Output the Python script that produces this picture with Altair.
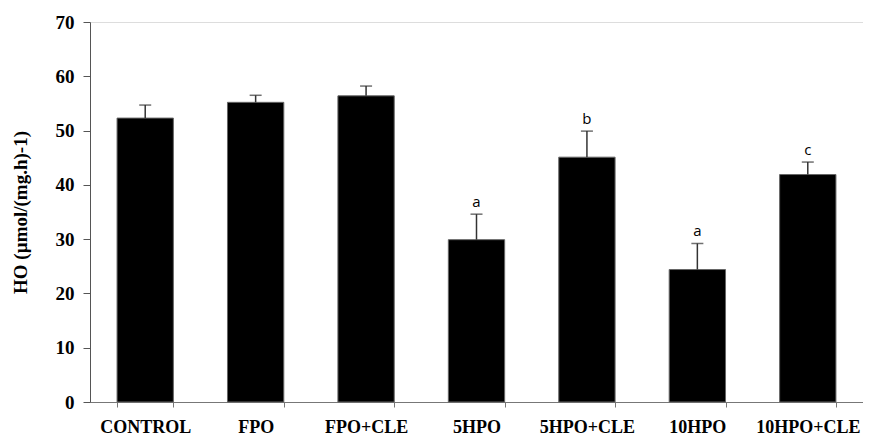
import altair as alt
import pandas as pd

groups = ["CONTROL", "FPO", "FPO+CLE", "5HPO", "5HPO+CLE", "10HPO", "10HPO+CLE"]
means = [52.3, 55.2, 56.4, 29.9, 45.1, 24.4, 41.9]
errors = [2.4, 1.3, 1.8, 4.7, 4.8, 4.8, 2.3]
letters = ["", "", "", "a", "b", "a", "c"]

df = pd.DataFrame({"group": groups, "mean": means, "err": errors, "letter": letters})
df["upper"] = df["mean"] + df["err"]

serif = "Times New Roman, Liberation Serif, serif"

x = alt.X("group:N", sort=groups, title=None,
          scale=alt.Scale(paddingInner=0.49, paddingOuter=0.245),
          axis=alt.Axis(labelAngle=0, labelFont=serif, labelFontSize=18, labelFontWeight="bold",
                        labelColor="black", tickBand="extent", tickSize=5, tickColor="#777",
                        domainColor="#777", labelPadding=11, labelOverlap=False))
y = alt.Y("mean:Q", title="HO (µmol/(mg.h)-1)",
          scale=alt.Scale(domain=[0, 70], nice=False),
          axis=alt.Axis(values=[0, 10, 20, 30, 40, 50, 60, 70], grid=False,
                        labelFont=serif, labelFontSize=19, labelFontWeight="bold", labelColor="black",
                        tickSize=7, tickColor="#555", domainColor="#555", labelPadding=9,
                        titleFont=serif, titleFontSize=19, titleFontWeight="bold", titleColor="black",
                        titlePadding=25))

base = alt.Chart(df)
bars = base.mark_bar(color="black", stroke="#666", strokeWidth=1).encode(x=x, y=y)
rules = base.mark_rule(color="#333", strokeWidth=1.5).encode(
    x=alt.X("group:N", sort=groups), y="mean:Q", y2="upper:Q")
caps = base.mark_tick(color="#333", thickness=1.5, size=12, orient="horizontal").encode(
    x=alt.X("group:N", sort=groups), y="upper:Q")
labels = base.mark_text(font="Open Sans, Liberation Sans, sans-serif", fontSize=15,
                        baseline="bottom", dy=-4, color="black").encode(
    x=alt.X("group:N", sort=groups), y="upper:Q", text="letter:N")

chart = (bars + rules + caps + labels).properties(
    width=773, height=380,
    autosize=alt.AutoSizeParams(type="none"),
    padding={"left": 82, "top": 14, "right": 0, "bottom": 34},
).configure_view(stroke=None).configure(background="white")

chart.save("out.html", embed_options={"renderer": "svg", "actions": False})
